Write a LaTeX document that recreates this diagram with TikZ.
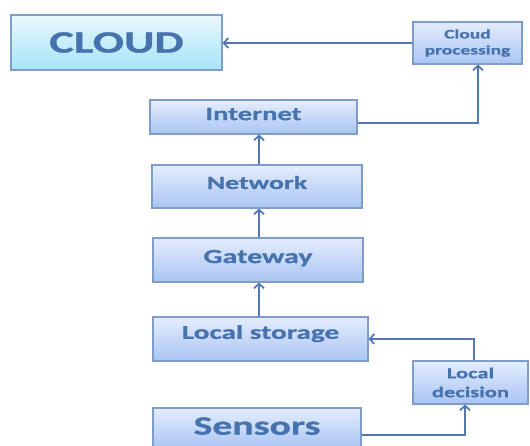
\documentclass[tikz,border=0pt]{standalone}
\usepackage{fontspec}
\setmainfont{Carlito}[FakeStretch=1.5, BoldFeatures={FakeBold=0.8}]
\usetikzlibrary{arrows.meta}
\definecolor{txtblue}{HTML}{4672AE}
\definecolor{edgeblue}{HTML}{7F9DC9}
\definecolor{lineblue}{HTML}{5178B2}
\definecolor{boxtop}{HTML}{E4EDFD}
\definecolor{boxbot}{HTML}{A9C4F3}
\definecolor{cyantop}{HTML}{E8F8FD}
\definecolor{cyanbot}{HTML}{A6E4F8}
\tikzset{
  box/.style={draw=edgeblue, line width=1.1pt, top color=boxtop, bottom color=boxbot,
    inner sep=0pt, align=center, text=txtblue, font=\bfseries},
  cloudbox/.style={box, top color=cyantop, bottom color=cyanbot},
  % a deeper text box lifts a one-line label above the box middle
  raised/.style={text depth=#1},
  arr/.style={draw=lineblue, line width=2pt, -{Straight Barb[length=4.5pt,width=10pt,line width=1.8pt]}},
}
\begin{document}
\begin{tikzpicture}[x=1pt,y=-1pt]
\useasboundingbox (0,0) rectangle (530,446);
% boxes
\node[cloudbox, minimum width=211pt, minimum height=55pt, font=\bfseries\fontsize{31}{31}\selectfont] (cloud) at (116.5,42.5) {CLOUD};
\node[box, minimum width=109pt, minimum height=42pt, font=\bfseries\fontsize{13}{16}\selectfont] (cproc) at (467.5,43) {Cloud\\processing};
\node[box, minimum width=207pt, minimum height=34pt, font=\bfseries\fontsize{19}{19}\selectfont, raised=6pt] (internet) at (253.5,117) {Internet};
\node[box, minimum width=210pt, minimum height=43pt, font=\bfseries\fontsize{18.5}{19}\selectfont, raised=8pt] (network) at (257,186.5) {Network};
\node[box, minimum width=210pt, minimum height=44pt, font=\bfseries\fontsize{20}{20}\selectfont, raised=7pt] (gateway) at (258,260) {Gateway};
\node[box, minimum width=215pt, minimum height=44pt, font=\bfseries\fontsize{19.5}{20}\selectfont, raised=14pt] (lstorage) at (260.5,339) {Local storage};
\node[box, minimum width=115pt, minimum height=43pt, font=\bfseries\fontsize{15}{19}\selectfont] (ldecision) at (470.5,382.5) {Local\\decision};
\node[box, minimum width=208pt, minimum height=40pt, font=\bfseries\fontsize{26.5}{27}\selectfont, raised=4pt] (sensors) at (257,428) {Sensors};
% connectors
\coordinate (ax) at (259,0);
\draw[arr] (cproc.west) -- (cloud.east |- cproc.west);
\draw[arr] ([yshift=-6pt]internet.east) -| ([xshift=10.5pt]cproc.south);
\draw[arr] (network.north -| ax) -- (internet.south -| ax);
\draw[arr] (gateway.north -| ax) -- (network.south -| ax);
\draw[arr] (lstorage.north -| ax) -- (gateway.south -| ax);
\draw[arr] ([xshift=3.5pt]ldecision.north) |- (lstorage.east);
\draw[arr] ([yshift=-7pt]sensors.east) -| ([xshift=-5.5pt]ldecision.south);
\end{tikzpicture}
\end{document}
